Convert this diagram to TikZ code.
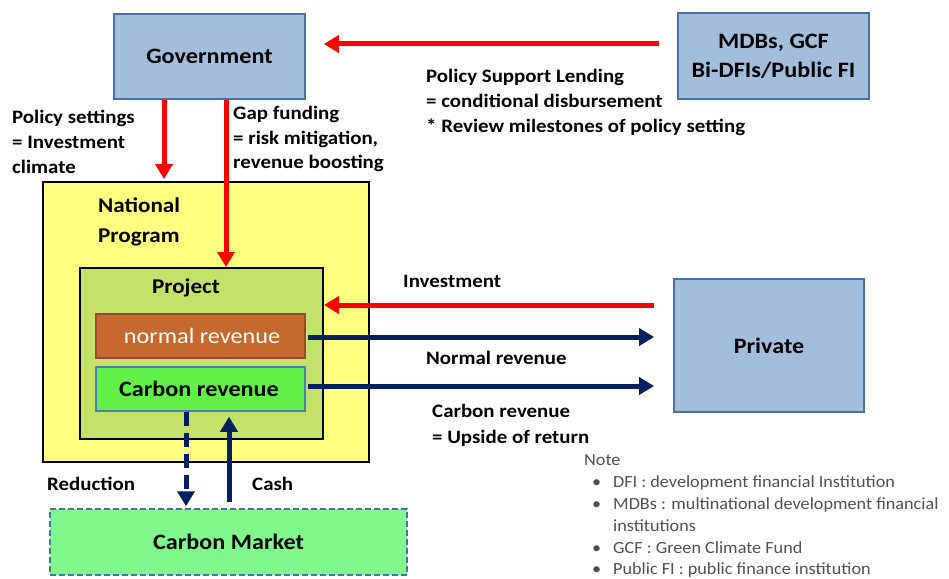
\documentclass[tikz,border=0pt]{standalone}
\usepackage{fontspec}
\setmainfont{Carlito}[FakeStretch=1.1]
\newfontfamily\notefont{Carlito}[FakeStretch=1.07]
\usetikzlibrary{arrows.meta}
\definecolor{boxblue}{RGB}{163,189,221}
\definecolor{boxedge}{RGB}{74,111,163}
\definecolor{natyellow}{RGB}{255,255,128}
\definecolor{projgreen}{RGB}{196,226,106}
\definecolor{brownrev}{RGB}{197,105,47}
\definecolor{brownedge}{RGB}{160,70,55}
\definecolor{carbongreen}{RGB}{96,240,72}
\definecolor{carbonedge}{RGB}{74,126,187}
\definecolor{marketgreen}{RGB}{128,248,140}
\definecolor{navy}{RGB}{0,32,96}
\definecolor{notegray}{RGB}{80,80,80}
\begin{document}
\begin{tikzpicture}[x=1pt,y=-1pt,
  box/.style={draw=boxedge, fill=boxblue, line width=1.8pt, align=center, inner sep=0pt,
    font=\bfseries\fontsize{22}{29}\selectfont},
  lbl/.style={anchor=base west, inner sep=0pt, font=\bfseries\fontsize{19}{23}\selectfont},
  notetxt/.style={anchor=base west, inner sep=0pt, text=notegray, font=\notefont\fontsize{17}{20}\selectfont},
  redarr/.style={draw=red, line width=5pt, -{Triangle[width=17pt,length=15pt]}},
  bluearr/.style={draw=navy, line width=5pt, -{Triangle[width=17pt,length=15pt]}}]
\useasboundingbox (0,0) rectangle (949,578);
% boxes
\node[box, minimum width=191pt, minimum height=85pt] (gov) at (209.5,56.5) {Government};
\node[box, minimum width=191pt, minimum height=86pt] (mdb) at (773.5,56) {MDBs, GCF\\Bi-DFIs/Public FI};
\node[draw=black, fill=natyellow, line width=2pt, minimum width=326pt, minimum height=280pt, inner sep=0pt] (nat) at (206,322) {};
\node[draw=black, fill=projgreen, line width=2pt, minimum width=243pt, minimum height=171pt, inner sep=0pt] (proj) at (201.5,353.5) {};
\node[draw=brownedge, fill=brownrev, line width=1.5pt, minimum width=209pt, minimum height=44pt, inner sep=0pt,
  text=white, font=\fontsize{22}{26}\selectfont] (normal) at (200.5,336) {\hspace*{3pt}normal revenue};
\node[draw=carbonedge, fill=carbongreen, line width=1.5pt, minimum width=209pt, minimum height=44pt, inner sep=0pt,
  font=\bfseries\fontsize{22}{26}\selectfont] (carbon) at (200.5,389) {Carbon revenue\hspace*{3pt}};
\node[box, minimum width=190pt, minimum height=133pt] (private) at (769,345.5) {Private};
\node[draw=boxedge, dash pattern=on 6pt off 3pt, fill=marketgreen, line width=1.5pt, minimum width=357pt, minimum height=66pt,
  inner sep=0pt, font=\bfseries\fontsize{22}{26}\selectfont] (cm) at (228.5,542) {Carbon Market};
% titles inside
\node[lbl, font=\bfseries\fontsize{21}{26}\selectfont] (natt1) at (98,212) {National};
\node[lbl, font=\bfseries\fontsize{21}{26}\selectfont] (natt2) at (98,242) {Program};
\node[lbl, anchor=base, font=\bfseries\fontsize{21}{26}\selectfont] (projt) at (186,293) {Project};
% arrows
\coordinate (a1) at ([xshift=-18pt,yshift=12pt]mdb.west);
\draw[redarr, shorten >=18pt] (a1) -- (gov.east |- a1);
\coordinate (g1) at ([xshift=-45.5pt]gov.south);
\draw[redarr, shorten >=2pt] (g1) -- (g1 |- nat.north);
\coordinate (g2) at ([xshift=16.5pt]gov.south);
\draw[redarr] (g2) -- (g2 |- proj.north);
\coordinate (i1) at ([yshift=40.5pt]private.west);
\draw[redarr, shorten <=19pt] (i1) -- (i1 -| proj.east);
\coordinate (n1) at ([xshift=2pt,yshift=-1pt]normal.east);
\draw[bluearr, shorten >=19pt] (n1) -- (n1 -| private.west);
\coordinate (c2) at ([xshift=2pt,yshift=3pt]carbon.east);
\draw[bluearr, shorten >=19pt] (c2) -- (c2 -| private.west);
\coordinate (d1) at ([xshift=-14.5pt]carbon.south);
\draw[bluearr, dash pattern=on 14pt off 7pt, shorten >=2pt] (d1) -- (d1 |- cm.north);
\coordinate (c1) at ([xshift=28.5pt]carbon.south);
\draw[bluearr, shorten <=6pt, shorten >=5pt] (c1 |- cm.north) -- (c1);
% labels
\node[lbl] (l1) at (12,123) {Policy settings};
\node[lbl] (l2) at (12,148) {= Investment};
\node[lbl] (l3) at (12,173) {climate};
\node[lbl] (l4) at (233,119.5) {Gap funding};
\node[lbl] (l5) at (233,144) {= risk mitigation,};
\node[lbl] (l6) at (233,168) {revenue boosting};
\node[lbl] (l7) at (426,82) {Policy Support Lending};
\node[lbl] (l8) at (426,107) {= conditional disbursement};
\node[lbl] (l9) at (426,132) {* Review milestones of policy setting};
\node[lbl] (l10) at (403,287) {Investment};
\node[lbl] (l11) at (426,364) {Normal revenue};
\node[lbl] (l12) at (432,417) {Carbon revenue};
\node[lbl] (l13) at (432,443) {= Upside of return};
\node[lbl] (l14) at (47,490) {Reduction};
\node[lbl] (l15) at (252,490) {Cash};
% note
\node[notetxt] (n0) at (584,465) {Note};
\foreach \yy/\tx [count=\i] in {487/{DFI : development financial Institution},
    509/{MDBs : multinational development financial},
    553/{GCF : Green Climate Fund},
    574/{Public FI : public finance institution}}{
  \node[notetxt] (nb\i) at (592,\yy) {\textbullet};
  \node[notetxt] (nt\i) at (613,\yy) {\tx};
}
\node[notetxt] (nt5) at (613,531) {institutions};
\end{tikzpicture}
\end{document}
